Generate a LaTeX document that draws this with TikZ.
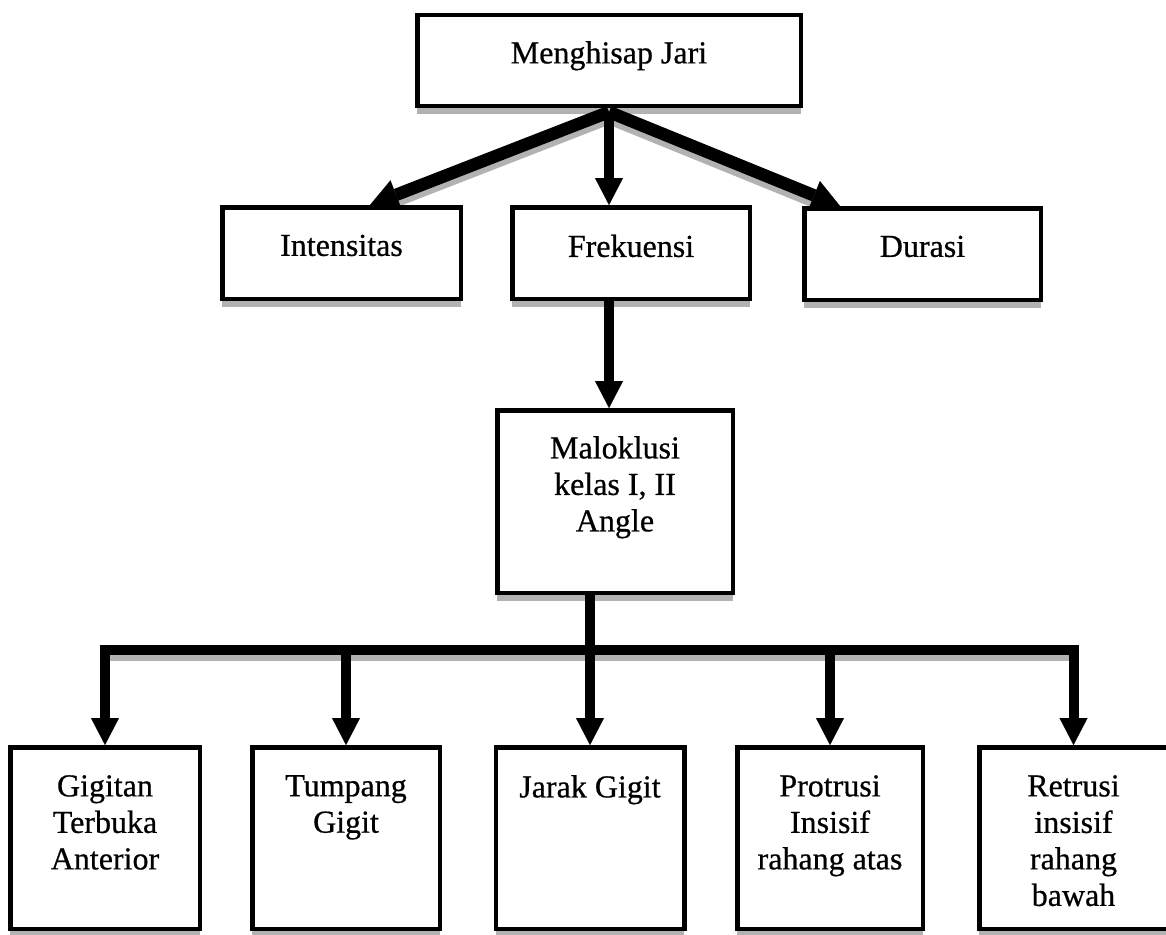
\documentclass[tikz,border=0pt]{standalone}
\usepackage{fontspec}
\setmainfont{Liberation Serif}[FakeBold=0.6]
\usetikzlibrary{arrows.meta,shadows,backgrounds}
\begin{document}
\begin{tikzpicture}[x=1pt,y=-1pt,
  box/.style={draw=black, line width=4.5pt, fill=white, inner sep=0pt,
    drop shadow={shadow xshift=0pt, shadow yshift=-8.5pt, fill=gray!60, opacity=1}},
  lbl/.style={anchor=north, inner sep=0pt, align=center,
    font=\fontsize{32}{36.5}\selectfont},
  diag/.style={line width=12.5pt, -{Triangle[width=31pt,length=28pt,line width=0.1pt]}},
  varr/.style={line width=10pt, -{Triangle[width=28pt,length=27pt,line width=0.1pt]}},
  barl/.style={line width=10pt, line cap=rect},
  shadowline/.style={draw=gray!60, fill=gray!60, transform canvas={yshift=-6pt}}]
\useasboundingbox (0,0) rectangle (1166,934);
\clip (0,0) rectangle (1166,934);

% boxes
\node[box, minimum width=383.5pt, minimum height=90.5pt] (top) at (609,60.5) {};
\node[box, minimum width=238.5pt, minimum height=91.5pt] (int) at (341.5,253) {};
\node[box, minimum width=237.5pt, minimum height=91.5pt] (fre) at (631,253) {};
\node[box, minimum width=236.5pt, minimum height=91.5pt] (dur) at (922.5,254) {};
\node[box, minimum width=235.5pt, minimum height=182.5pt] (mal) at (615,501.5) {};
\node[box, minimum width=189.5pt, minimum height=181.5pt] (gig) at (105,838) {};
\node[box, minimum width=187.5pt, minimum height=181.5pt] (tum) at (346,838) {};
\node[box, minimum width=188.5pt, minimum height=181.5pt] (jar) at (590,838) {};
\node[box, minimum width=185.5pt, minimum height=181.5pt] (pro) at (830,838) {};
\node[box, minimum width=188.5pt, minimum height=181.5pt] (ret) at (1073.5,838) {};

% labels
\node[lbl] (topt) at (609,41) {Menghisap Jari};
\node[lbl] (intt) at (341.5,234.5) {Intensitas};
\node[lbl] (fret) at (631,234.5) {Frekuensi};
\node[lbl] (durt) at (922.5,235.5) {Durasi};
\node[lbl] (malt) at (615,436) {Maloklusi\\kelas I, II\\Angle};
\node[lbl] (gigt) at (105,775) {Gigitan\\Terbuka\\Anterior};
\node[lbl] (tumt) at (346,775) {Tumpang\\Gigit};
\node[lbl] (jart) at (590,775) {Jarak Gigit};
\node[lbl] (prot) at (830,775) {Protrusi\\Insisif\\rahang atas};
\node[lbl] (rett) at (1073.5,775) {Retrusi\\insisif\\rahang\\bawah};

% junction points
\coordinate (hub) at ([yshift=-4pt]top.south);
\coordinate (bar) at (590,650);

% connector shadows
\begin{scope}[on background layer]
  \fill[white] (0,0) rectangle (1166,934);
  \draw[diag, shadowline] (hub) -- ([xshift=28.5pt]int.north);
  \draw[diag, shadowline] (hub) -- ([xshift=-82.5pt]dur.north);
  \draw[barl, shadowline] (gig.north |- bar) -- (ret.north |- bar);
\end{scope}

% connectors
\draw[diag] (hub) -- ([xshift=28.5pt]int.north);
\draw[varr] (hub) -- (hub |- fre.north);
\draw[diag] (hub) -- ([xshift=-82.5pt]dur.north);
\draw[varr] (hub |- fre.south) -- (hub |- mal.north);
\draw[barl] (gig.north |- bar) -- (ret.north |- bar);
\draw[varr] (mal.south -| jar.north) -- (jar.north);
\foreach \n in {gig,tum,pro,ret}{
  \draw[varr] (\n.north |- bar) -- (\n.north);
}
\end{tikzpicture}
\end{document}
